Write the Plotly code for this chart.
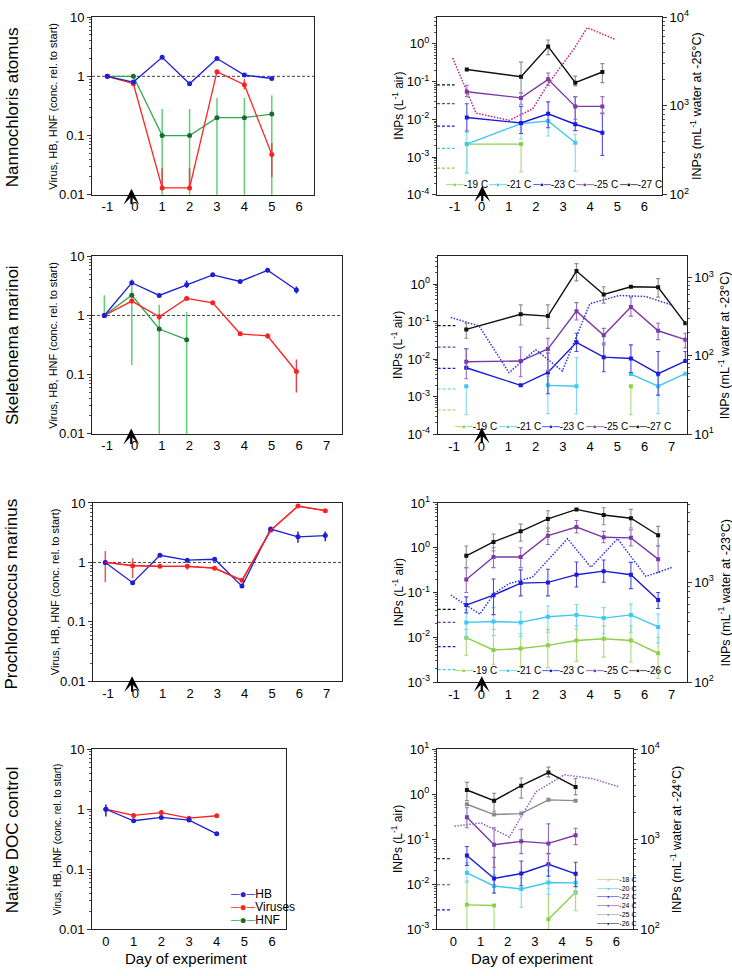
import plotly.graph_objects as go

W, H = 732, 976
FONT = "Liberation Sans, Arial, sans-serif"

# ---------------- DATA ----------------
# Row 1 left: Nannochloris atomus (conc. rel. to start)
n_days = [-1, -0.05, 1, 2, 3, 4, 5]
n_hb = [1.0, 0.8, 2.1, 0.75, 2.0, 1.05, 0.92]
n_vir = [1.0, 0.75, 0.013, 0.013, 1.2, 0.72, 0.048]
n_vir_hi = [1.0, 0.8, 0.028, 0.028, 1.25, 0.9, 0.075]
n_vir_lo = [1.0, 0.7, 0.013, 0.013, 1.15, 0.6, 0.02]
n_hnf = [1.0, 1.0, 0.1, 0.1, 0.2, 0.2, 0.23]
n_hnf_hi = [1.0, 1.0, 0.28, 0.28, 0.43, 0.43, 0.48]
n_hnf_lo = [1.0, 1.0, 0.001, 0.001, 0.001, 0.001, 0.001]

# Row 2 left: Skeletonema marinoi
s_days = [-1.1, -0.1, 0.9, 1.9, 2.85, 3.85, 4.85, 5.9]
s_hb = [1.0, 3.57, 2.18, 3.31, 4.86, 3.76, 5.8, 2.7]
s_hb_hi = [1.0, 3.9, 2.3, 3.9, 5.3, 4.1, 6.1, 3.1]
s_hb_lo = [1.0, 3.3, 2.1, 2.9, 4.5, 3.5, 5.5, 2.35]
s_vir = [1.0, 1.75, 0.95, 1.94, 1.64, 0.49, 0.45, 0.113]
s_vir_hi = [1.0, 1.9, 1.05, 2.0, 1.7, 0.52, 0.5, 0.18]
s_vir_lo = [1.0, 1.6, 0.85, 1.9, 1.6, 0.46, 0.41, 0.05]
s_hnf_days = [-1.1, -0.1, 0.9, 1.9]
s_hnf = [1.0, 2.2, 0.59, 0.39]
s_hnf_hi = [2.2, 4.1, 1.52, 1.15]
s_hnf_lo = [0.95, 0.146, 0.001, 0.001]

# Row 3 left: Prochlorococcus marinus
p_days = [-1.1, -0.1, 0.9, 1.9, 2.9, 3.9, 4.95, 5.95, 6.95]
p_hb = [1.0, 0.456, 1.32, 1.09, 1.13, 0.40, 3.64, 2.69, 2.83]
p_hb_hi = [1.0, 0.456, 1.32, 1.09, 1.13, 0.40, 3.64, 3.3, 3.3]
p_hb_lo = [1.0, 0.456, 1.32, 1.09, 1.13, 0.40, 3.64, 2.14, 2.28]
p_vir = [1.0, 0.88, 0.86, 0.86, 0.80, 0.50, 3.46, 8.85, 7.41]
p_vir_hi = [1.56, 1.18, 0.86, 0.95, 0.80, 0.50, 3.46, 9.3, 7.6]
p_vir_lo = [0.47, 0.54, 0.86, 0.75, 0.80, 0.50, 3.46, 8.4, 7.2]

# Row 4 left: Native DOC control
c_days = [0, 1, 2, 3, 4]
c_hb = [1.0, 0.644, 0.73, 0.66, 0.39]
c_hb_hi = [1.2, 0.644, 0.73, 0.66, 0.39]
c_hb_lo = [0.76, 0.644, 0.73, 0.66, 0.39]
c_vir = [1.0, 0.79, 0.88, 0.71, 0.78]

# Row 1 right: INPs (L-1 air), Nannochloris
r1_days = [-0.55, 1.45, 2.45, 3.45, 4.45]
r1_t27 = [0.21, 0.135, 0.85, 0.094, 0.18]
r1_t27_hi = [0.21, 0.33, 1.27, 0.14, 0.3]
r1_t27_lo = [0.21, 0.05, 0.52, 0.077, 0.094]
r1_t25 = [0.054, 0.037, 0.115, 0.022, 0.022]
r1_t25_hi = [0.08, 0.05, 0.17, 0.04, 0.04]
r1_t25_lo = [0.04, 0.025, 0.08, 0.01, 0.014]
r1_t23 = [0.0112, 0.008, 0.014, 0.0074, 0.0044]
r1_t23_hi = [0.026, 0.022, 0.029, 0.04, 0.0146]
r1_t23_lo = [0.0049, 0.0042, 0.006, 0.005, 0.0011]
r1_t21 = [0.0022, 0.0077, 0.009, 0.0024, None]
r1_t21_hi = [0.0045, 0.0077, 0.0095, 0.004, None]
r1_t21_lo = [0.00038, 0.003, 0.0036, 0.00042, None]
r1_t19 = [0.0022, 0.0022, None, None, None]
r1_t19_hi = [0.0022, 0.0022, None, None, None]
r1_t19_lo = [0.00038, 0.0004, None, None, None]
r1_water_days = [-1.07, -0.21, 1.02, 1.88, 2.44, 3.42, 3.89, 4.9]
r1_water = [3460, 830, 688, 927, 1755, 4470, 7620, 5660]
r1_bg = [0.00051, 0.0017, 0.0066, 0.026, 0.082]
r1_labels = ["-19 C", "-21 C", "-23 C", "-25 C", "-27 C"]

# Row 2 right: Skeletonema
r2_days = [-0.55, 1.45, 2.45, 3.5, 4.5, 5.5, 6.5, 7.5]
r2_t27 = [0.062, 0.157, 0.14, 2.23, 0.53, 0.85, 0.82, 0.09]
r2_t27_hi = [0.09, 0.28, 0.28, 3.5, 0.85, 0.85, 1.4, 0.09]
r2_t27_lo = [0.036, 0.081, 0.066, 1.22, 0.31, 0.85, 0.45, 0.09]
r2_t25 = [0.0085, 0.0089, 0.0187, 0.19, 0.043, 0.245, 0.057, 0.033]
r2_t25_hi = [0.019, 0.021, 0.036, 0.32, 0.066, 0.45, 0.09, 0.049]
r2_t25_lo = [0.003, 0.0034, 0.0048, 0.11, 0.024, 0.14, 0.033, 0.02]
r2_t23 = [0.0059, 0.002, 0.0044, 0.028, 0.0113, 0.0104, 0.0041, 0.0089]
r2_t23_hi = [0.019, 0.002, 0.0146, 0.049, 0.027, 0.024, 0.016, 0.016]
r2_t23_lo = [0.0059, 0.002, 0.0012, 0.016, 0.0046, 0.0044, 0.0011, 0.0089]
r2_t21 = [0.0019, None, 0.002, 0.0019, None, 0.004, 0.0019, 0.0041]
r2_t21_hi = [0.0019, None, 0.0035, 0.011, None, 0.004, 0.0035, 0.0041]
r2_t21_lo = [0.00033, None, 0.00035, 0.00035, None, 0.004, 0.00035, 0.0041]
r2_t19 = [None, None, None, None, None, 0.0019, None, None]
r2_t19_hi = [None, None, None, None, None, 0.0019, None, None]
r2_t19_lo = [None, None, None, None, None, 0.00033, None, None]
r2_water_days = [-1.12, -0.08, 1.02, 2.0, 2.98, 3.99, 5.07, 6.05, 7.03]
r2_water = [309, 240, 61, 120, 64, 462, 589, 571, 441]
r2_bg = [0.00044, 0.0016, 0.0057, 0.021, 0.078]
r2_labels = ["-19 C", "-21 C", "-23 C", "-25 C", "-27 C"]

# Row 3 right: Prochlorococcus
r3_days = [-0.55, 0.45, 1.45, 2.45, 3.5, 4.5, 5.5, 6.5]
r3_t26 = [0.66, 1.35, 2.32, 4.4, 7.17, 5.39, 4.55, 1.9]
r3_t26_hi = [1.09, 2.03, 3.36, 6.7, 7.17, 7.8, 7.17, 2.99]
r3_t26_lo = [0.36, 0.85, 1.4, 2.3, 7.17, 3.25, 2.75, 1.09]
r3_t25 = [0.195, 0.62, 0.62, 1.86, 2.89, 1.71, 1.66, 0.555]
r3_t25_hi = [0.36, 1.0, 1.0, 2.75, 4.04, 2.32, 2.5, 1.09]
r3_t25_lo = [0.1, 0.36, 0.36, 1.18, 2.13, 1.29, 1.09, 0.28]
r3_t23 = [0.0525, 0.087, 0.162, 0.168, 0.25, 0.30, 0.25, 0.068]
r3_t23_hi = [0.08, 0.2, 0.32, 0.33, 0.48, 0.53, 0.47, 0.1]
r3_t23_lo = [0.035, 0.032, 0.084, 0.084, 0.133, 0.17, 0.122, 0.044]
r3_t21 = [0.0215, 0.0226, 0.0215, 0.0287, 0.0316, 0.0268, 0.0316, 0.017]
r3_t21_hi = [0.041, 0.046, 0.037, 0.05, 0.054, 0.046, 0.055, 0.033]
r3_t21_lo = [0.0098, 0.011, 0.0105, 0.013, 0.015, 0.012, 0.013, 0.0075]
r3_t19 = [0.0098, 0.0052, 0.0056, 0.0066, 0.0085, 0.0093, 0.0085, 0.0044]
r3_t19_hi = [0.015, 0.015, 0.012, 0.015, 0.018, 0.018, 0.018, 0.01]
r3_t19_lo = [0.004, 0.0025, 0.0022, 0.0021, 0.0029, 0.0036, 0.0028, 0.0012]
r3_water_days = [-1.12, -0.05, 0.47, 1.02, 1.88, 3.17, 4.03, 5.01, 6.05, 7.03]
r3_water = [740, 477, 767, 963, 1120, 2710, 1405, 2710, 1137, 1405]
r3_bg = [None, 0.0019, 0.0062, 0.0215, 0.042]
r3_labels = ["-19 C", "-21 C", "-23 C", "-25 C", "-26 C"]

# Row 4 right: Native DOC control
r4_days = [0.5, 1.5, 2.5, 3.5, 4.5]
r4_t26 = [1.24, 0.72, 1.55, 3.02, 1.45]
r4_t26_hi = [1.83, 1.05, 2.3, 4.0, 2.23]
r4_t26_lo = [0.72, 0.42, 0.82, 2.43, 0.97]
r4_t25 = [0.6, 0.354, 0.372, 0.75, 0.72]
r4_t24 = [0.31, 0.076, 0.09, 0.081, 0.123]
r4_t24_hi = [0.5, 0.18, 0.166, 0.22, 0.176]
r4_t24_lo = [0.18, 0.024, 0.048, 0.026, 0.076]
r4_t22 = [0.0436, 0.0135, 0.0174, 0.0278, 0.0171]
r4_t22_hi = [0.069, 0.04, 0.033, 0.048, 0.031]
r4_t22_lo = [0.0263, 0.0064, 0.0093, 0.0152, 0.0089]
r4_t20 = [0.018, 0.0092, 0.0079, 0.011, 0.0108]
r4_t20_hi = [0.03, 0.016, 0.014, 0.02, 0.018]
r4_t20_lo = [0.011, 0.0064, 0.0031, 0.006, 0.006]
r4_t18 = [0.0035, 0.0034, None, 0.00167, 0.0067]
r4_t18_hi = [0.012, 0.0034, None, 0.008, 0.009]
r4_t18_lo = [0.0005, 0.0005, None, 0.0005, 0.0026]
r4_water_days = [0.04, 1.02, 2.06, 3.04, 4.08, 5.12, 6.1]
r4_water = [1397, 1520, 1060, 3365, 5200, 4710, 3820]
r4_bg = [None, None, 0.0027, 0.0098, 0.037]
r4_labels = ["-18 C", "-20 C", "-22 C", "-24 C", "-25 C", "-26 C"]

row_titles = ["Nannochloris atomus", "Skeletonema marinoi", "Prochlorococcus marinus", "Native DOC control"]
water_temps = ["-25", "-23", "-23", "-24"]

# ---------------- STYLE ----------------
C_HB, C_VIR, C_HNF, C_HNF_M = "#1f1fd6", "#ff2020", "#2eaa4e", "#1b6b30"
C19, C21, C23, C25, C27, CGRAY = "#8ed04c", "#3ec8f2", "#1a1ad8", "#7b3aa6", "#111111", "#8a8a8a"
E19, E21, E23, E25, E27 = "#a8dc7a", "#7fd8f5", "#4a4ae0", "#9a6ac0", "#8c8c8c"
WATER_C = ["#c0207a", "#2a3ae0", "#2a3ae0", "#9060c0"]

# pixel layout of subplots: (left, right, top, bottom)
BOX = {
    1: (92, 314, 8.3, 189), 2: (92, 341.7, 251.7, 432.3), 3: (93, 341.7, 502.7, 684.3), 4: (92, 286, 753.3, 936.7),
    5: (437, 662, 8.3, 189), 6: (437.7, 686.7, 251.7, 432.7), 7: (437.7, 686.7, 502.7, 685), 8: (437, 632.7, 753.3, 936.7),
}
XR = {1: [-1.56, 6.54], 2: [-1.55, 7.55], 3: [-1.55, 7.55], 4: [-0.5, 6.5],
      5: [-1.65, 6.65], 6: [-1.6, 7.55], 7: [-1.6, 7.55], 8: [-0.6, 6.6]}
XT = {1: range(-1, 7), 2: range(-1, 8), 3: range(-1, 8), 4: range(0, 7),
      5: range(-1, 7), 6: range(-1, 8), 7: range(-1, 8), 8: range(0, 7)}
YL = {5: [-4, 0.71], 6: [-4, 0.74], 7: [-3, 1], 8: [-3, 1]}
YR = {5: [2, 4], 6: [1, 3.27], 7: [2, 3.79], 8: [2, 4]}
BG_X = {5: [-1.65, -1.0], 6: [-1.6, -0.95], 7: [-1.6, -0.95], 8: [-0.6, -0.05]}


def px(x):
    return x / W


def py(y):
    return 1 - y / H


def xid(i):
    return "x" if i == 1 else f"x{i}"


def yid(i):
    return "y" if i == 1 else f"y{i}"


def pm(y, hi, lo):
    plus = [None if v is None else h - v for v, h in zip(y, hi)]
    minus = [None if v is None else v - l for v, l in zip(y, lo)]
    return plus, minus


fig = go.Figure()


def series(i, x, y, color, hi=None, lo=None, ecolor=None, msize=5, lw=1.3,
           mcolor=None, ewidth=0, ethick=1.3, yax=None, symbol="circle", dash="solid", mode="lines+markers"):
    kw = {}
    if hi is not None:
        plus, minus = pm(y, hi, lo)
        kw["error_y"] = dict(type="data", symmetric=False, array=plus, arrayminus=minus,
                             color=ecolor or color, thickness=ethick, width=ewidth)
    fig.add_trace(go.Scatter(
        x=x, y=y, xaxis=xid(i), yaxis=yax or yid(i), mode=mode,
        line=dict(color=color, width=lw, dash=dash),
        marker=dict(color=mcolor or color, size=msize, symbol=symbol),
        showlegend=False, hoverinfo="skip", **kw))


# ---- left panels ----
for i in (1, 2, 3):
    series(i, XR[i], [1, 1], "#444444", lw=1, dash="3px,2px", mode="lines")

series(1, n_days, n_hnf, C_HNF, n_hnf_hi, n_hnf_lo, ecolor="#5fcf7a", mcolor=C_HNF_M, ethick=1.5)
series(1, n_days, n_vir, C_VIR, n_vir_hi, n_vir_lo, ecolor="#e04848", ethick=1.5)
series(1, n_days, n_hb, C_HB)

series(2, s_hnf_days, s_hnf, C_HNF, s_hnf_hi, s_hnf_lo, ecolor="#5fcf7a", mcolor=C_HNF_M, ethick=1.5)
series(2, s_days, s_vir, C_VIR, s_vir_hi, s_vir_lo, ecolor="#e04848", ethick=1.5)
series(2, s_days, s_hb, C_HB, s_hb_hi, s_hb_lo, ethick=1.5)

series(3, p_days, p_vir, C_VIR, p_vir_hi, p_vir_lo, ecolor="#e85a5a", ethick=1.5)
series(3, p_days, p_hb, C_HB, p_hb_hi, p_hb_lo, ethick=1.5)
series(3, p_days, p_vir, C_VIR, mode="lines")

series(4, c_days, c_vir, C_VIR)
series(4, c_days, c_hb, C_HB, c_hb_hi, c_hb_lo, ethick=1.5)

# ---- right panels ----
R_SETS = {
    5: [(r1_t19, r1_t19_hi, r1_t19_lo, C19, E19), (r1_t21, r1_t21_hi, r1_t21_lo, C21, E21),
        (r1_t23, r1_t23_hi, r1_t23_lo, C23, E23), (r1_t25, r1_t25_hi, r1_t25_lo, C25, E25),
        (r1_t27, r1_t27_hi, r1_t27_lo, C27, E27)],
    6: [(r2_t19, r2_t19_hi, r2_t19_lo, C19, E19), (r2_t21, r2_t21_hi, r2_t21_lo, C21, E21),
        (r2_t23, r2_t23_hi, r2_t23_lo, C23, E23), (r2_t25, r2_t25_hi, r2_t25_lo, C25, E25),
        (r2_t27, r2_t27_hi, r2_t27_lo, C27, E27)],
    7: [(r3_t19, r3_t19_hi, r3_t19_lo, C19, E19), (r3_t21, r3_t21_hi, r3_t21_lo, C21, E21),
        (r3_t23, r3_t23_hi, r3_t23_lo, C23, E23), (r3_t25, r3_t25_hi, r3_t25_lo, C25, E25),
        (r3_t26, r3_t26_hi, r3_t26_lo, C27, E27)],
    8: [(r4_t18, r4_t18_hi, r4_t18_lo, C19, E19), (r4_t20, r4_t20_hi, r4_t20_lo, C21, E21),
        (r4_t22, r4_t22_hi, r4_t22_lo, C23, E23), (r4_t24, r4_t24_hi, r4_t24_lo, C25, E25),
        (r4_t25, None, None, CGRAY, CGRAY), (r4_t26, r4_t26_hi, r4_t26_lo, C27, E27)],
}
R_DAYS = {5: r1_days, 6: r2_days, 7: r3_days, 8: r4_days}
R_BG = {5: r1_bg, 6: r2_bg, 7: r3_bg, 8: r4_bg}
R_BG_COL = [C19, C21, C23, C25, C27]
R_WATER = {5: (r1_water_days, r1_water), 6: (r2_water_days, r2_water),
           7: (r3_water_days, r3_water), 8: (r4_water_days, r4_water)}
R_LABELS = {5: r1_labels, 6: r2_labels, 7: r3_labels, 8: r4_labels}
R_LEG_COL = {5: [C19, C21, C23, C25, C27], 6: [C19, C21, C23, C25, C27],
             7: [C19, C21, C23, C25, C27], 8: [C19, C21, C23, C25, CGRAY, C27]}

for k, i in enumerate((5, 6, 7, 8)):
    # background (dashed) levels
    for v, col in zip(R_BG[i], R_BG_COL):
        if v is not None:
            series(i, BG_X[i], [v, v], col, lw=1.2, dash="3px,2px", mode="lines")
    # water INPs (right axis)
    wd, wv = R_WATER[i]
    series(i, wd, wv, WATER_C[k], lw=1.5, dash="1.5px,1.5px", mode="lines", yax=f"y{i + 4}")
    for (y, hi, lo, c, ec) in R_SETS[i]:
        series(i, R_DAYS[i], y, c, hi, lo, ecolor=ec, msize=4, lw=1.4, ewidth=2, ethick=1.1, symbol="square")

# ---------------- AXES ----------------
tickfont = dict(family=FONT, size=13, color="black")
minor_vals = [m * 10 ** e for e in range(-5, 5) for m in range(2, 10)]
layout = dict(width=W, height=H, margin=dict(l=0, r=0, t=0, b=0),
              paper_bgcolor="white", plot_bgcolor="white", showlegend=False,
              font=dict(family=FONT, color="black"))

for i in range(1, 9):
    l, r, t, b = BOX[i]
    xk = "xaxis" if i == 1 else f"xaxis{i}"
    yk = "yaxis" if i == 1 else f"yaxis{i}"
    left_panel = i <= 4
    layout[xk] = dict(domain=[px(l), px(r)], anchor=yid(i), range=XR[i],
                      tickvals=list(XT[i]), ticktext=[str(v) for v in XT[i]],
                      ticks="", showgrid=False, zeroline=False, showline=True,
                      linecolor="#222", linewidth=1, mirror=True, tickfont=tickfont)
    if left_panel:
        layout[yk] = dict(domain=[py(b), py(t)], anchor=xid(i), type="log", range=[-2, 1],
                          tickvals=[0.01, 0.1, 1, 10], ticktext=["0.01", "0.1", "1", "10"],
                          ticks="outside", ticklen=4, tickcolor="#333",
                          minor=dict(tickvals=minor_vals, ticks="outside", ticklen=2, tickcolor="#555"),
                          showgrid=False, zeroline=False, showline=True, linecolor="#222",
                          linewidth=1, mirror=True, tickfont=tickfont)
    else:
        lo_e, hi_e = YL[i]
        exps = list(range(int(lo_e), int(hi_e) + 1))
        layout[yk] = dict(domain=[py(b), py(t)], anchor=xid(i), type="log", range=YL[i],
                          tickvals=[10 ** e for e in exps],
                          ticktext=[f"10<sup>{e}</sup>" for e in exps],
                          ticks="outside", ticklen=4, tickcolor="#333",
                          minor=dict(tickvals=minor_vals, ticks="outside", ticklen=2, tickcolor="#555"),
                          showgrid=False, zeroline=False, showline=True, linecolor="#222",
                          linewidth=1, mirror=False, tickfont=tickfont)
        re = list(range(int(YR[i][0]), int(YR[i][1]) + 1))
        layout[f"yaxis{i + 4}"] = dict(overlaying=yid(i), anchor=xid(i), side="right", type="log",
                                       range=YR[i], tickvals=[10 ** e for e in re],
                                       ticktext=[f"10<sup>{e}</sup>" for e in re],
                                       ticks="outside", ticklen=4, tickcolor="#333",
                                       minor=dict(tickvals=minor_vals, ticks="outside", ticklen=2, tickcolor="#555"),
                                       showgrid=False, zeroline=False, showline=True, linecolor="#222",
                                       linewidth=1, tickfont=tickfont)

fig.update_layout(**layout)

# ---------------- ANNOTATIONS ----------------
ann = []


def text(x, y, s, size, angle=0, xanchor="center", yanchor="middle", color="black"):
    ann.append(dict(x=px(x), y=py(y), xref="paper", yref="paper", text=s, showarrow=False,
                    textangle=angle, xanchor=xanchor, yanchor=yanchor,
                    font=dict(family=FONT, size=size, color=color)))


# row titles
for s, yc in zip(row_titles, [100, 342, 596, 846]):
    text(12, yc, s, 17, angle=-90)

# left y-titles
for i, xx, sz in ((1, 52.7, 11), (2, 52.7, 11), (3, 55, 11), (4, 57, 10)):
    l, r, t, b = BOX[i]
    text(xx, (t + b) / 2, "Virus, HB, HNF (conc. rel. to start)", sz, angle=-90)

# right-panel titles
for k, (i, xr) in enumerate(((5, 696), (6, 724), (7, 724), (8, 676))):
    l, r, t, b = BOX[i]
    text(397.7, (t + b) / 2, "INPs (L<sup>-1</sup> air)", 12, angle=-90)
    text(xr, (t + b) / 2, f"INPs (mL<sup>-1</sup> water at {water_temps[k]}°C)", 12.5, angle=-90)

# x titles
text(186, 966, "Day of experiment", 15)
text(532.7, 966, "Day of experiment", 15)

# arrows marking addition at day 0
for i, xv, tip in ((1, -0.12, 183), (2, -0.12, 427), (3, -0.12, 679), (5, 0.02, 180), (6, 0.02, 426), (7, 0.02, 679)):
    ann.append(dict(x=xv, y=py(tip), xref=xid(i), yref="paper", text="", showarrow=True,
                    arrowhead=3, arrowsize=1.2, arrowwidth=2.2, arrowcolor="black", ax=0, ay=17))

# horizontal legends (rows 1-3 right)
for i, x0, yy in ((5, 442.7, 179), (6, 452, 425), (7, 452, 673.3)):
    for j, (lab, col) in enumerate(zip(R_LABELS[i], R_LEG_COL[i])):
        text(x0 + 43.5 * j, yy, f'<span style="color:{col}">─▪─</span>{lab}', 10, xanchor="left")

# vertical legend (row 4 right)
for j, (lab, col) in enumerate(zip(R_LABELS[8], R_LEG_COL[8])):
    text(594, 885.7 + 9 * j, f'<span style="color:{col}">──▪──</span>{lab}', 7, xanchor="left")

# left legend (row 4 left)
for j, (lab, col, mc) in enumerate(zip(["HB", "Viruses", "HNF"], [C_HB, C_VIR, C_HNF], [C_HB, C_VIR, C_HNF_M])):
    text(228, 901 + 13 * j,
         f'<span style="color:{col}">─</span><span style="color:{mc}">●</span><span style="color:{col}">─</span>{lab}',
         12, xanchor="left")

fig.update_layout(annotations=ann)
fig.write_html("out.html")
